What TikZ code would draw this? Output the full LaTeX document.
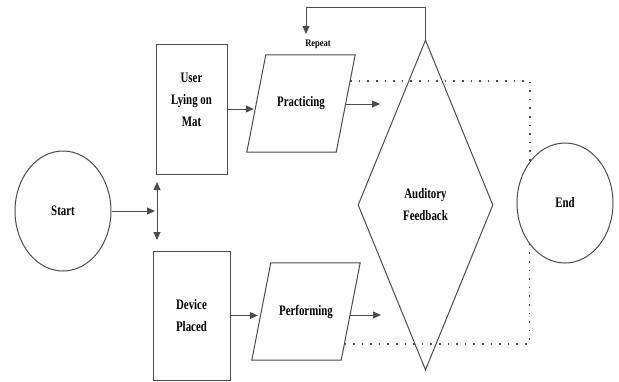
\documentclass[tikz,border=0pt]{standalone}
\usepackage{fontspec}
\setmainfont{Liberation Serif}[FakeStretch=0.75]
\newfontfamily\repfont{Liberation Serif}[FakeStretch=0.85]
\usetikzlibrary{shapes.geometric,arrows.meta,calc}
\begin{document}
\begin{tikzpicture}[x=1pt,y=-1pt,
  line/.style={draw=black!70,line width=1pt},
  arr/.style={line,-{Triangle[length=8pt,width=7pt]}},
  dots/.style={draw=black!70,line width=1.5pt,dash pattern=on 1.6pt off 7pt},
  term/.style={ellipse,line,minimum width=96pt,minimum height=120pt,inner sep=0pt},
  box/.style={rectangle,line,inner sep=0pt},
  parabox/.style={rectangle,inner sep=0pt,minimum width=108pt,minimum height=97pt},
  lbl/.style={font=\fontsize{14.5}{22}\selectfont\bfseries,align=center,text=black}]
\useasboundingbox (0,0) rectangle (619,381);
\node[term,lbl] (start) at (63,211) {Start};
\node[term,lbl] (end) at (565,203) {End};
\node[box,minimum width=71pt,minimum height=130pt] (user) at (191.5,109) {};
\node[lbl] (userT) at (191.5,100) {User\\Lying on\\Mat};
\node[box,lbl,minimum width=77pt,minimum height=129pt] (dev) at (191.5,315.5) {Device\\Placed};
\node[parabox,lbl] (prac) at (301,103.5) {Practicing};
\node[parabox,lbl] (perf) at (306,311.5) {Performing};
\draw[line] (prac.south west) -- ($(prac.south east)+(-19,0)$) -- (prac.north east) -- ($(prac.north west)+(19,0)$) -- cycle;
\draw[line] (perf.south west) -- ($(perf.south east)+(-19,0)$) -- (perf.north east) -- ($(perf.north west)+(19,0)$) -- cycle;
\node[diamond,line,lbl,minimum width=135pt,minimum height=330pt,inner sep=0pt] (fb) at (425.5,205) {Auditory\\Feedback};
\node[font=\repfont\fontsize{10}{12}\selectfont\bfseries,inner sep=0pt] (rep) at (318,44) {Repeat};
\coordinate (vtop) at (157,182);
\coordinate (vbot) at (157,240);
\coordinate (vmid) at (155,211);
\coordinate (pa) at (380,104);
\coordinate (pb) at (381,315);
\coordinate (repT) at (306,34);
\draw[arr] (start) -- (vmid);
\draw[line,{Triangle[length=8pt,width=7pt]}-{Triangle[length=8pt,width=7pt]}] (vtop) -- (vbot);
\draw[arr] (user.east) -- ($(user.east -| prac.west)+(7,0)$);
\draw[arr] (dev.east) -- ($(dev.east -| perf.west)+(6,0)$);
\draw[arr] ($(prac.east |- pa)+(-9.5,0)$) -- (pa);
\draw[arr] ($(perf.east |- pb)+(-10,0)$) -- (pb);
\draw[arr] (fb.north) -- ++(0,-32) -| (repT);
\draw[dots] ($(prac.north east)!0.268!($(prac.south east)+(-19,0)$)$) -| (end.130.5);
\draw[dots] ($(perf.north east)!0.835!($(perf.south east)+(-19,0)$)$) -| (end.229.5);
\end{tikzpicture}
\end{document}
